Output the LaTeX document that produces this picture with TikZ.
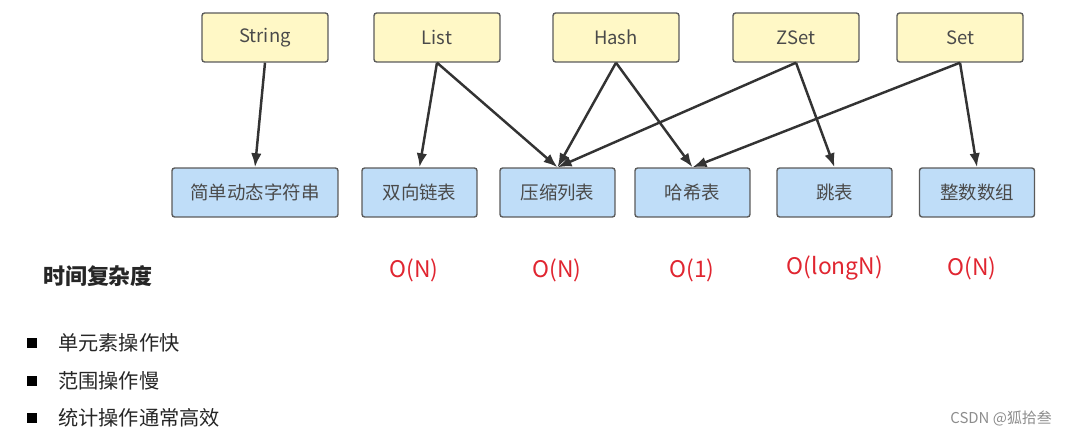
\documentclass[tikz,border=0pt]{standalone}
\usepackage{fontspec}
\setmainfont{Noto Sans CJK SC}
\usepackage{tikz}
\usetikzlibrary{arrows.meta}
\definecolor{typefill}{HTML}{FFF8C6}
\definecolor{encfill}{HTML}{BFDDF8}
\definecolor{boxline}{HTML}{5A5A5A}
\definecolor{boxtext}{HTML}{4A4A4A}
\definecolor{costred}{HTML}{E02530}
\tikzstyle{typebox} = [rectangle, rounded corners=1.5pt, minimum
    width=2.52cm, minimum height=0.98cm, text centered, draw=boxline,
line width=0.8pt, fill=typefill, text=boxtext, font=\fontsize{10.5}{12}\selectfont]
\tikzstyle{encbox} = [typebox, fill=encfill, minimum width=2.3cm]
\tikzstyle{cost} = [text=costred, font=\fontsize{13}{15}\selectfont]
\tikzstyle{note} = [anchor=west, text=black!85, font=\fontsize{11.5}{13}\selectfont]
\tikzstyle{bullet} = [rectangle, fill=black, inner sep=0pt, minimum size=0.19cm]
\tikzstyle{arrow} = [line width=1.4pt, draw=black!80, ->, >={Latex[length=8pt,width=6pt]}]

\begin{document}
\begin{tikzpicture}[x=0.02cm, y=-0.02cm]
            \useasboundingbox (0,0) rectangle (1072,436);
            % Types
            \node[typebox] (str) at (265,37.5) {String};
            \node[typebox] (list) at (437,37.5) {List};
            \node[typebox] (hash) at (616,37.5) {Hash};
            \node[typebox] (zset) at (796,37.5) {ZSet};
            \node[typebox] (set) at (960,37.5) {Set};
            % Encodings
            \node[encbox, minimum width=3.32cm] (sds) at (255,192.5) {简单动态字符串};
            \node[encbox] (linked) at (419.5,192.5) {双向链表};
            \node[encbox] (zip) at (557.5,192.5) {压缩列表};
            \node[encbox] (ht) at (692.5,192.5) {哈希表};
            \node[encbox] (skip) at (834.5,192.5) {跳表};
            \node[encbox] (intset) at (977,192.5) {整数数组};
            % Arrows
            \draw[arrow] (str.south) -- (sds.north);
            \draw[arrow] (list.south) -- (linked.north);
            \draw[arrow] (list.south) -- (zip.north);
            \draw[arrow] (hash.south) -- (zip.north);
            \draw[arrow] (hash.south) -- (ht.north);
            \draw[arrow] (zset.south) -- (zip.north);
            \draw[arrow] (zset.south) -- (skip.north);
            \draw[arrow] (set.south) -- (ht.north);
            \draw[arrow] (set.south) -- (intset.north);
            % Time complexity
            \node[font=\fontsize{12.5}{14}\selectfont\bfseries, text=black!85]
            (time) at (98,276) {时间复杂度};
            \node[cost] (c1) at (414,270) {O(N)};
            \node[cost] (c2) at (557,270) {O(N)};
            \node[cost] (c3) at (692,270) {O(1)};
            \node[cost] (c4) at (835,268) {O(longN)};
            \node[cost] (c5) at (972,268) {O(N)};
            % Notes
            \node[bullet] (b1) at (32,343) {};
            \node[note] (n1) at (52,343) {单元素操作快};
            \node[bullet] (b2) at (32,381) {};
            \node[note] (n2) at (52,381) {范围操作慢};
            \node[bullet] (b3) at (32,418) {};
            \node[note] (n3) at (52,418) {统计操作通常高效};
            \node[anchor=east, text=black!45, font=\fontsize{8.5}{10}\selectfont]
            (mark) at (1058,418) {CSDN @狐拾叁};

        \end{tikzpicture}
\end{document}
